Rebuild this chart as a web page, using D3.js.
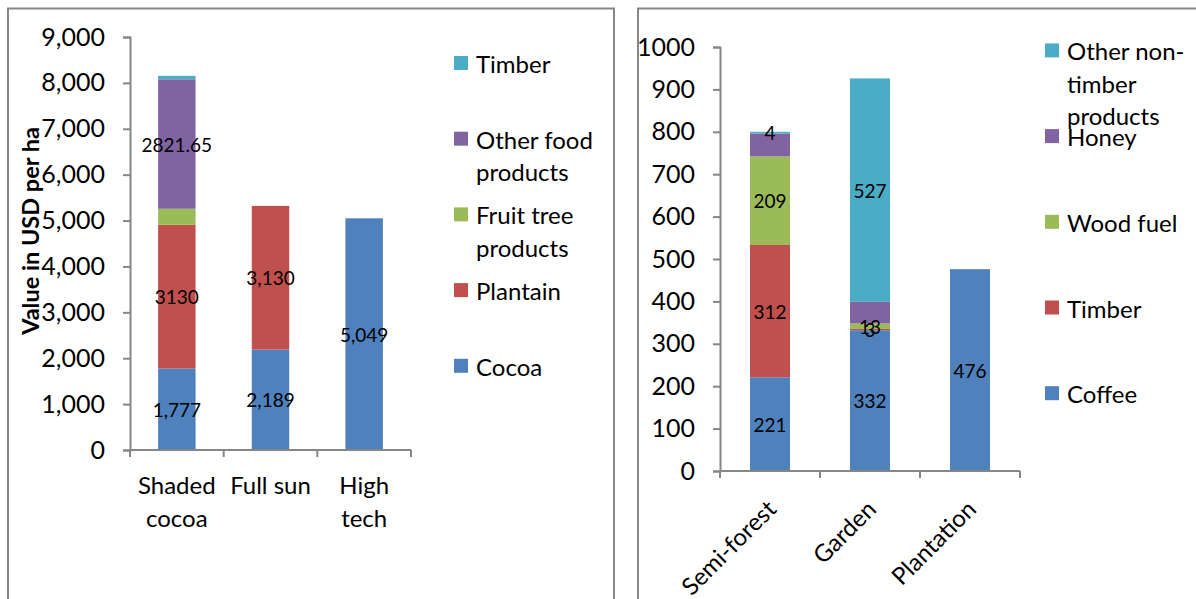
<!DOCTYPE html>
<html>
<head>
<meta charset="utf-8">
<script src="https://cdn.jsdelivr.net/npm/d3@7"></script>
<style>
  html, body { margin: 0; padding: 0; background: #fff; }
  svg { display: block; font-family: Lato, "Open Sans", sans-serif; }
</style>
</head>
<body>
<svg id="chart" width="1196" height="599"></svg>
<script>
// ---- Cocoa systems (value in USD per ha) ----
const cocoaCategories = ["Shaded cocoa", "Full sun", "High tech"];
const cocoaCategoryLines = [["Shaded", "cocoa"], ["Full sun"], ["High", "tech"]];
const cocoaSeriesNames = ["Cocoa", "Plantain", "Fruit tree products", "Other food products", "Timber"];
const cocoaValues = [1777, 2189, 5049];
const plantainValues = [3130, 3130, 0];
const fruitTreeValues = [350, 0, 0];
const otherFoodValues = [2821.65, 0, 0];
const cocoaTimberValues = [75, 0, 0];
const cocoaLabels = ["1,777", "2,189", "5,049"];
const plantainLabels = ["3130", "3,130", null];
const fruitTreeLabels = [null, null, null];
const otherFoodLabels = ["2821.65", null, null];
const cocoaTimberLabels = [null, null, null];
const cocoaTicks = [0, 1000, 2000, 3000, 4000, 5000, 6000, 7000, 8000, 9000];
const cocoaLegendLines = [["Timber"], ["Other food", "products"], ["Fruit tree", "products"], ["Plantain"], ["Cocoa"]];
const cocoaYTitle = "Value in USD per ha";

// ---- Coffee systems ----
const coffeeCategories = ["Semi-forest", "Garden", "Plantation"];
const coffeeSeriesNames = ["Coffee", "Timber", "Wood fuel", "Honey", "Other non-timber products"];
const coffeeValues = [221, 332, 476];
const coffeeTimberValues = [312, 3, 0];
const woodFuelValues = [209, 13, 0];
const honeyValues = [54, 51, 0];
const otherNtpValues = [4, 527, 0];
const coffeeLabels = ["221", "332", "476"];
const coffeeTimberLabels = ["312", "3", null];
const woodFuelLabels = ["209", "13", null];
const honeyLabels = [null, null, null];
const otherNtpLabels = ["4", "527", null];
const coffeeTicks = [0, 100, 200, 300, 400, 500, 600, 700, 800, 900, 1000];
const coffeeLegendLines = [["Other non-", "timber", "products"], ["Honey"], ["Wood fuel"], ["Timber"], ["Coffee"]];

const palette = ["#4F81BD", "#C0504D", "#9BBB59", "#8064A2", "#4BACC6"];
const axisGrey = "#868686";

const svg = d3.select("#chart");

// panel frames
svg.append("rect").attr("x", 8).attr("y", 8.5).attr("width", 606).attr("height", 640)
  .attr("fill", "none").attr("stroke", axisGrey).attr("stroke-width", 2);
svg.append("rect").attr("x", 638).attr("y", 8.5).attr("width", 640).attr("height", 640)
  .attr("fill", "none").attr("stroke", axisGrey).attr("stroke-width", 2);

function drawPanel(opt) {
  const g = svg.append("g");
  const x = d3.scaleBand().domain(opt.categories).range(opt.xRange)
    .paddingInner(0.6).paddingOuter(0.3);
  const y = d3.scaleLinear().domain(opt.yDomain).range(opt.yRange);

  // stacked data
  const rows = opt.categories.map((c, i) => {
    const r = { category: c };
    opt.series.forEach((s, k) => { r[s] = opt.values[k][i]; });
    return r;
  });
  const stacked = d3.stack().keys(opt.series)(rows);

  stacked.forEach((layer, k) => {
    g.append("g").attr("fill", palette[k])
      .selectAll("rect").data(layer).join("rect")
      .attr("x", d => x(d.data.category))
      .attr("width", x.bandwidth())
      .attr("y", d => y(d[1]))
      .attr("height", d => Math.max(0, y(d[0]) - y(d[1])));
  });

  // data labels
  stacked.forEach((layer, k) => {
    g.append("g").selectAll("text")
      .data(layer.map((d, i) => ({ d, label: opt.labels[k][i] })).filter(e => e.label !== null))
      .join("text")
      .attr("x", e => x(e.d.data.category) + x.bandwidth() / 2)
      .attr("y", e => (y(e.d[0]) + y(e.d[1])) / 2)
      .attr("text-anchor", "middle")
      .attr("dominant-baseline", "central")
      .attr("font-size", 19)
      .attr("fill", "#000")
      .text(e => e.label);
  });

  // y axis
  const yAxis = g.append("g").attr("transform", `translate(${opt.xRange[0]},0)`)
    .call(d3.axisLeft(y).tickValues(opt.ticks).tickSize(7).tickPadding(opt.tickPad)
      .tickFormat(opt.tickFormat));
  yAxis.select(".domain").attr("stroke", axisGrey).attr("stroke-width", 2);
  yAxis.selectAll(".tick line").attr("stroke", axisGrey).attr("stroke-width", 2);
  yAxis.selectAll(".tick text").attr("font-size", 25).attr("fill", "#000")
    .attr("font-family", "Lato, sans-serif");

  // x axis: baseline with tick marks at category boundaries
  const y0 = y(0);
  g.append("line").attr("x1", opt.xRange[0]).attr("x2", opt.xRange[1])
    .attr("y1", y0).attr("y2", y0).attr("stroke", axisGrey).attr("stroke-width", 2);
  const step = x.step();
  const bounds = d3.range(opt.categories.length + 1).map(i => opt.xRange[0] + i * step);
  g.append("g").selectAll("line").data(bounds).join("line")
    .attr("x1", d => d).attr("x2", d => d)
    .attr("y1", y0).attr("y2", y0 + 7)
    .attr("stroke", axisGrey).attr("stroke-width", 2);

  // legend
  const lg = g.append("g");
  opt.legendLines.forEach((lines, i) => {
    const cy = opt.legendTop + i * opt.legendStep;
    const k = opt.series.length - 1 - i;
    lg.append("rect").attr("x", opt.legendX).attr("y", cy - 7)
      .attr("width", 14).attr("height", 14).attr("fill", palette[k]);
    const t = lg.append("text").attr("x", opt.legendX + 22).attr("y", cy)
      .attr("font-size", 24).attr("fill", "#000").attr("dominant-baseline", "central");
    lines.forEach((ln, j) => {
      t.append("tspan").attr("x", opt.legendX + 22).attr("dy", j === 0 ? 0 : opt.legendLine).text(ln);
    });
  });

  return { g, x, y, y0 };
}

// left panel
const left = drawPanel({
  categories: cocoaCategories,
  series: cocoaSeriesNames,
  values: [cocoaValues, plantainValues, fruitTreeValues, otherFoodValues, cocoaTimberValues],
  labels: [cocoaLabels, plantainLabels, fruitTreeLabels, otherFoodLabels, cocoaTimberLabels],
  xRange: [130, 411],
  yDomain: [0, 9000],
  yRange: [450, 37],
  ticks: cocoaTicks,
  tickPad: 18,
  tickFormat: d3.format(","),
  legendLines: cocoaLegendLines,
  legendX: 454,
  legendTop: 63,
  legendStep: 75.7,
  legendLine: 32.5
});

// left category labels
cocoaCategoryLines.forEach((lines, i) => {
  const cx = left.x(cocoaCategories[i]) + left.x.bandwidth() / 2;
  const t = left.g.append("text").attr("x", cx).attr("y", 484)
    .attr("text-anchor", "middle").attr("dominant-baseline", "central")
    .attr("font-size", 24).attr("fill", "#000");
  lines.forEach((ln, j) => t.append("tspan").attr("x", cx).attr("dy", j === 0 ? 0 : 32.5).text(ln));
});

// left y title
left.g.append("text")
  .attr("transform", "translate(30,231) rotate(-90)")
  .attr("text-anchor", "middle").attr("dominant-baseline", "central")
  .attr("font-size", 23.5).attr("font-weight", "bold").attr("fill", "#000")
  .text(cocoaYTitle);

// right panel
const right = drawPanel({
  categories: coffeeCategories,
  series: coffeeSeriesNames,
  values: [coffeeValues, coffeeTimberValues, woodFuelValues, honeyValues, otherNtpValues],
  labels: [coffeeLabels, coffeeTimberLabels, woodFuelLabels, honeyLabels, otherNtpLabels],
  xRange: [720, 1020],
  yDomain: [0, 1000],
  yRange: [471, 47],
  ticks: coffeeTicks,
  tickPad: 18,
  tickFormat: d3.format("d"),
  legendLines: coffeeLegendLines,
  legendX: 1045,
  legendTop: 50.4,
  legendStep: 85.7,
  legendLine: 32.3
});

// right category labels (rotated)
coffeeCategories.forEach((c) => {
  const cx = right.x(c) + right.x.bandwidth() / 2;
  right.g.append("text")
    .attr("transform", `translate(${cx + 1},${right.y0 + 33}) rotate(-45)`)
    .attr("text-anchor", "end").attr("dominant-baseline", "central")
    .attr("font-size", 24).attr("fill", "#000")
    .text(c);
});
</script>
</body>
</html>
